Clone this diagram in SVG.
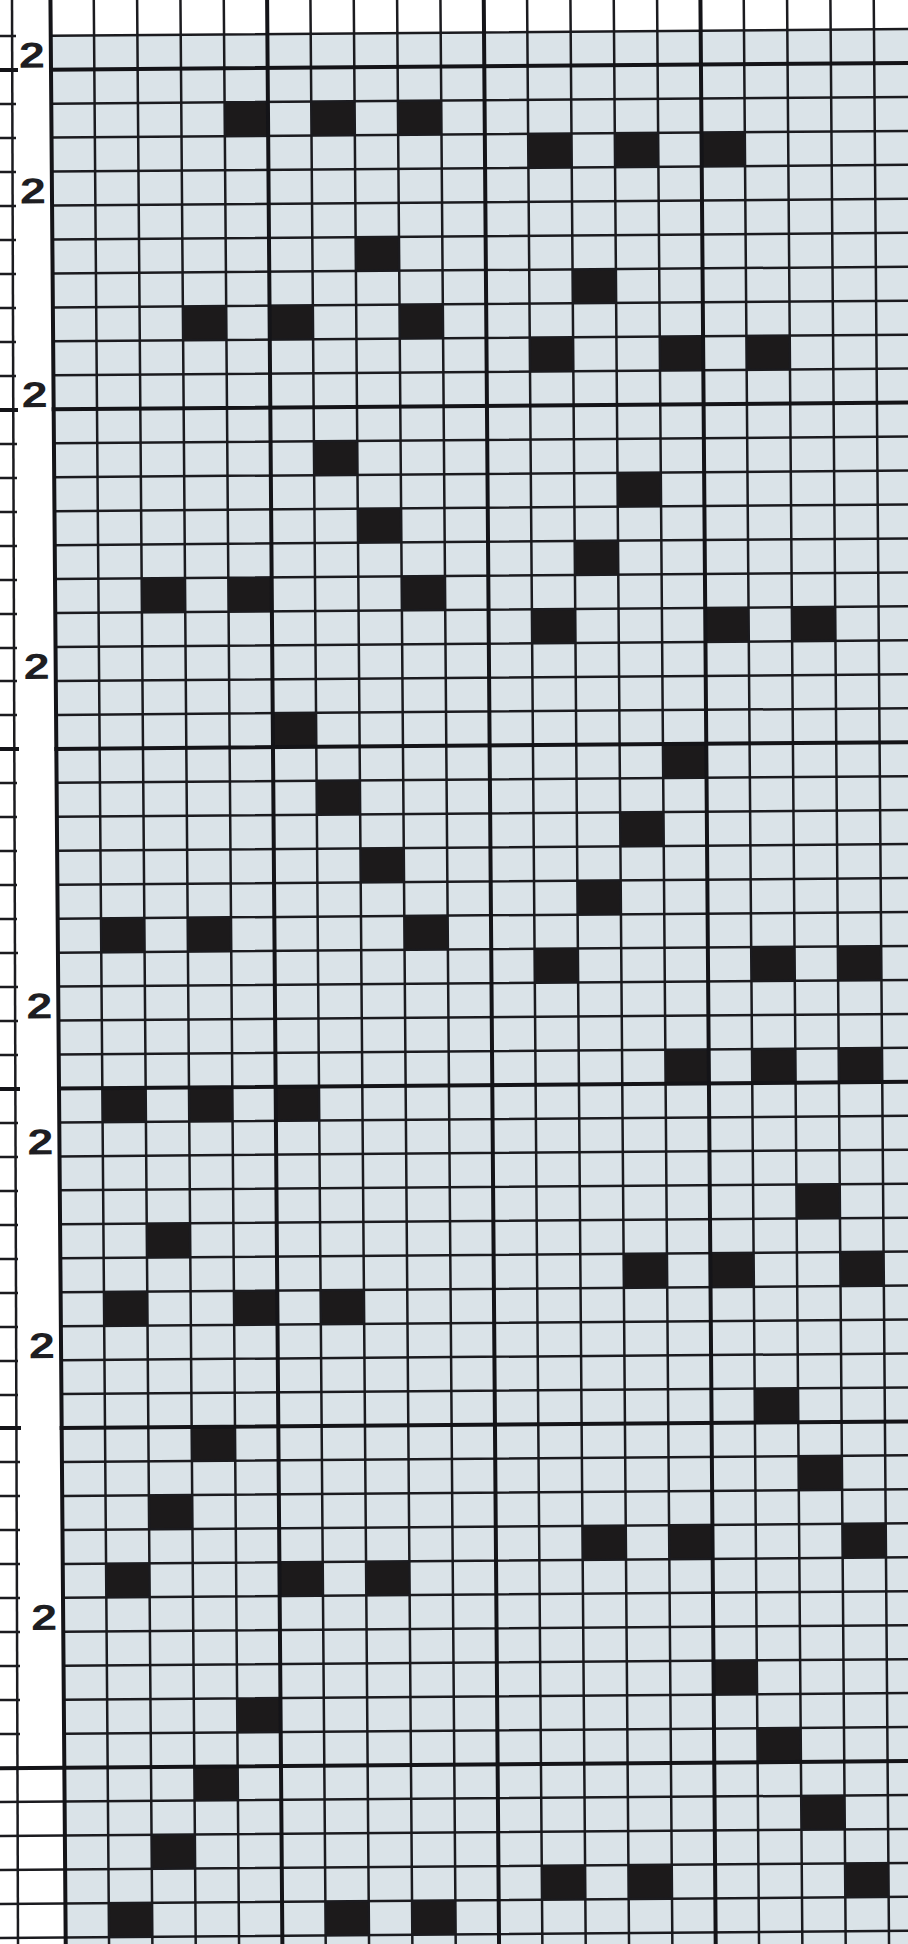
<svg xmlns="http://www.w3.org/2000/svg" width="908" height="1944" viewBox="0 0 908 1944">
<style>
.thin{fill:none;stroke:#1b1b1f;stroke-width:2.5}
.thick{fill:none;stroke:#141418;stroke-width:4}
.b{fill:#1c1a1b}
.lbl{font-family:"Liberation Sans",Arial,sans-serif;font-weight:bold;font-size:36px;fill:#1e1e22}
</style>
<rect x="0" y="0" width="908" height="1944" fill="#ffffff"/>
<g id="margin">
<path class="thin" d="M12 0L18 1944"/>
<path class="thin" d="M0 36H16M0 104H16M0 138H16M0 172H16M0 206H16M0 240H16M0 274H16M0 308H16M0 342H16M0 376H16M0 444H17M0 478H17M0 512H17M0 546H17M0 580H17M0 614H17M0 648H17M0 681H17M0 715H17M0 783H17M0 817H17M0 851H17M0 885H17M0 919H17M0 953H18M0 987H18M0 1021H18M0 1055H18M0 1123H18M0 1157H18M0 1191H18M0 1225H18M0 1259H18M0 1293H18M0 1327H18M0 1361H18M0 1395H18M0 1462H20M0 1496H20M0 1530H20M0 1564H20M0 1598H20M0 1632H20M0 1666H20M0 1700H20M0 1734H20"/>
<path class="thick" d="M0 70H18M0 410H18M0 749H19M0 1089H20M0 1428H21"/>
</g>
<g transform="rotate(-0.45 51 69.7)">
<g id="background">
<rect x="51" y="35.74" width="900" height="1960" fill="#dae3e8"/>
</g>
<g id="cells">
<rect class="b" x="224.32" y="103.66" width="43.33" height="33.96"/>
<rect class="b" x="310.98" y="103.66" width="43.33" height="33.96"/>
<rect class="b" x="397.64" y="103.66" width="43.33" height="33.96"/>
<rect class="b" x="527.63" y="137.62" width="43.33" height="33.96"/>
<rect class="b" x="614.29" y="137.62" width="43.33" height="33.96"/>
<rect class="b" x="700.95" y="137.62" width="43.33" height="33.96"/>
<rect class="b" x="354.31" y="239.5" width="43.33" height="33.96"/>
<rect class="b" x="570.96" y="273.46" width="43.33" height="33.96"/>
<rect class="b" x="180.99" y="307.42" width="43.33" height="33.96"/>
<rect class="b" x="267.65" y="307.42" width="43.33" height="33.96"/>
<rect class="b" x="397.64" y="307.42" width="43.33" height="33.96"/>
<rect class="b" x="527.63" y="341.38" width="43.33" height="33.96"/>
<rect class="b" x="657.62" y="341.38" width="43.33" height="33.96"/>
<rect class="b" x="744.28" y="341.38" width="43.33" height="33.96"/>
<rect class="b" x="310.98" y="443.26" width="43.33" height="33.96"/>
<rect class="b" x="614.29" y="477.22" width="43.33" height="33.96"/>
<rect class="b" x="354.31" y="511.18" width="43.33" height="33.96"/>
<rect class="b" x="570.96" y="545.14" width="43.33" height="33.96"/>
<rect class="b" x="137.66" y="579.1" width="43.33" height="33.96"/>
<rect class="b" x="224.32" y="579.1" width="43.33" height="33.96"/>
<rect class="b" x="397.64" y="579.1" width="43.33" height="33.96"/>
<rect class="b" x="527.63" y="613.06" width="43.33" height="33.96"/>
<rect class="b" x="700.95" y="613.06" width="43.33" height="33.96"/>
<rect class="b" x="787.61" y="613.06" width="43.33" height="33.96"/>
<rect class="b" x="267.65" y="714.94" width="43.33" height="33.96"/>
<rect class="b" x="657.62" y="748.9" width="43.33" height="33.96"/>
<rect class="b" x="310.98" y="782.86" width="43.33" height="33.96"/>
<rect class="b" x="614.29" y="816.82" width="43.33" height="33.96"/>
<rect class="b" x="354.31" y="850.78" width="43.33" height="33.96"/>
<rect class="b" x="570.96" y="884.74" width="43.33" height="33.96"/>
<rect class="b" x="94.33" y="918.7" width="43.33" height="33.96"/>
<rect class="b" x="180.99" y="918.7" width="43.33" height="33.96"/>
<rect class="b" x="397.64" y="918.7" width="43.33" height="33.96"/>
<rect class="b" x="527.63" y="952.66" width="43.33" height="33.96"/>
<rect class="b" x="744.28" y="952.66" width="43.33" height="33.96"/>
<rect class="b" x="830.94" y="952.66" width="43.33" height="33.96"/>
<rect class="b" x="657.62" y="1054.54" width="43.33" height="33.96"/>
<rect class="b" x="744.28" y="1054.54" width="43.33" height="33.96"/>
<rect class="b" x="830.94" y="1054.54" width="43.33" height="33.96"/>
<rect class="b" x="94.33" y="1088.5" width="43.33" height="33.96"/>
<rect class="b" x="180.99" y="1088.5" width="43.33" height="33.96"/>
<rect class="b" x="267.65" y="1088.5" width="43.33" height="33.96"/>
<rect class="b" x="787.61" y="1190.38" width="43.33" height="33.96"/>
<rect class="b" x="137.66" y="1224.34" width="43.33" height="33.96"/>
<rect class="b" x="614.29" y="1258.3" width="43.33" height="33.96"/>
<rect class="b" x="700.95" y="1258.3" width="43.33" height="33.96"/>
<rect class="b" x="830.94" y="1258.3" width="43.33" height="33.96"/>
<rect class="b" x="94.33" y="1292.26" width="43.33" height="33.96"/>
<rect class="b" x="224.32" y="1292.26" width="43.33" height="33.96"/>
<rect class="b" x="310.98" y="1292.26" width="43.33" height="33.96"/>
<rect class="b" x="744.28" y="1394.14" width="43.33" height="33.96"/>
<rect class="b" x="180.99" y="1428.1" width="43.33" height="33.96"/>
<rect class="b" x="787.61" y="1462.06" width="43.33" height="33.96"/>
<rect class="b" x="137.66" y="1496.02" width="43.33" height="33.96"/>
<rect class="b" x="570.96" y="1529.98" width="43.33" height="33.96"/>
<rect class="b" x="657.62" y="1529.98" width="43.33" height="33.96"/>
<rect class="b" x="830.94" y="1529.98" width="43.33" height="33.96"/>
<rect class="b" x="94.33" y="1563.94" width="43.33" height="33.96"/>
<rect class="b" x="267.65" y="1563.94" width="43.33" height="33.96"/>
<rect class="b" x="354.31" y="1563.94" width="43.33" height="33.96"/>
<rect class="b" x="700.95" y="1665.82" width="43.33" height="33.96"/>
<rect class="b" x="224.32" y="1699.78" width="43.33" height="33.96"/>
<rect class="b" x="744.28" y="1733.74" width="43.33" height="33.96"/>
<rect class="b" x="180.99" y="1767.7" width="43.33" height="33.96"/>
<rect class="b" x="787.61" y="1801.66" width="43.33" height="33.96"/>
<rect class="b" x="137.66" y="1835.62" width="43.33" height="33.96"/>
<rect class="b" x="527.63" y="1869.58" width="43.33" height="33.96"/>
<rect class="b" x="614.29" y="1869.58" width="43.33" height="33.96"/>
<rect class="b" x="830.94" y="1869.58" width="43.33" height="33.96"/>
<rect class="b" x="94.33" y="1903.54" width="43.33" height="33.96"/>
<rect class="b" x="310.98" y="1903.54" width="43.33" height="33.96"/>
<rect class="b" x="397.64" y="1903.54" width="43.33" height="33.96"/>
</g>
<g id="grid">
<path class="thin" d="M94.33 -20V1990M137.66 -20V1990M180.99 -20V1990M224.32 -20V1990M310.98 -20V1990M354.31 -20V1990M397.64 -20V1990M440.97 -20V1990M527.63 -20V1990M570.96 -20V1990M614.29 -20V1990M657.62 -20V1990M744.28 -20V1990M787.61 -20V1990M830.94 -20V1990M874.27 -20V1990"/>
<path class="thin" d="M51 35.74H950M51 103.66H950M51 137.62H950M51 171.58H950M51 205.54H950M51 239.5H950M51 273.46H950M51 307.42H950M51 341.38H950M51 375.34H950M51 443.26H950M51 477.22H950M51 511.18H950M51 545.14H950M51 579.1H950M51 613.06H950M51 647.02H950M51 680.98H950M51 714.94H950M51 782.86H950M51 816.82H950M51 850.78H950M51 884.74H950M51 918.7H950M51 952.66H950M51 986.62H950M51 1020.58H950M51 1054.54H950M51 1122.46H950M51 1156.42H950M51 1190.38H950M51 1224.34H950M51 1258.3H950M51 1292.26H950M51 1326.22H950M51 1360.18H950M51 1394.14H950M51 1462.06H950M51 1496.02H950M51 1529.98H950M51 1563.94H950M51 1597.9H950M51 1631.86H950M51 1665.82H950M51 1699.78H950M51 1733.74H950M-30 1801.66H950M-30 1835.62H950M-30 1869.58H950M-30 1903.54H950M-30 1937.5H950M-30 1971.46H950"/>
<path class="thick" d="M51 -20V1990M267.65 -20V1990M484.3 -20V1990M700.95 -20V1990"/>
<path class="thick" d="M49 69.7H950M49 409.3H950M49 748.9H950M49 1088.5H950M49 1428.1H950M-30 1767.7H950"/>
</g>
<g id="labels">
<text class="lbl" x="19" y="67.5" textLength="26" lengthAdjust="spacingAndGlyphs">2</text>
<text class="lbl" x="19" y="203.3" textLength="26" lengthAdjust="spacingAndGlyphs">2</text>
<text class="lbl" x="19" y="407.1" textLength="26" lengthAdjust="spacingAndGlyphs">2</text>
<text class="lbl" x="19" y="678.8" textLength="26" lengthAdjust="spacingAndGlyphs">2</text>
<text class="lbl" x="19" y="1018.4" textLength="26" lengthAdjust="spacingAndGlyphs">2</text>
<text class="lbl" x="19" y="1154.2" textLength="26" lengthAdjust="spacingAndGlyphs">2</text>
<text class="lbl" x="19" y="1358" textLength="26" lengthAdjust="spacingAndGlyphs">2</text>
<text class="lbl" x="19" y="1629.7" textLength="26" lengthAdjust="spacingAndGlyphs">2</text>
</g>
</g>
</svg>
